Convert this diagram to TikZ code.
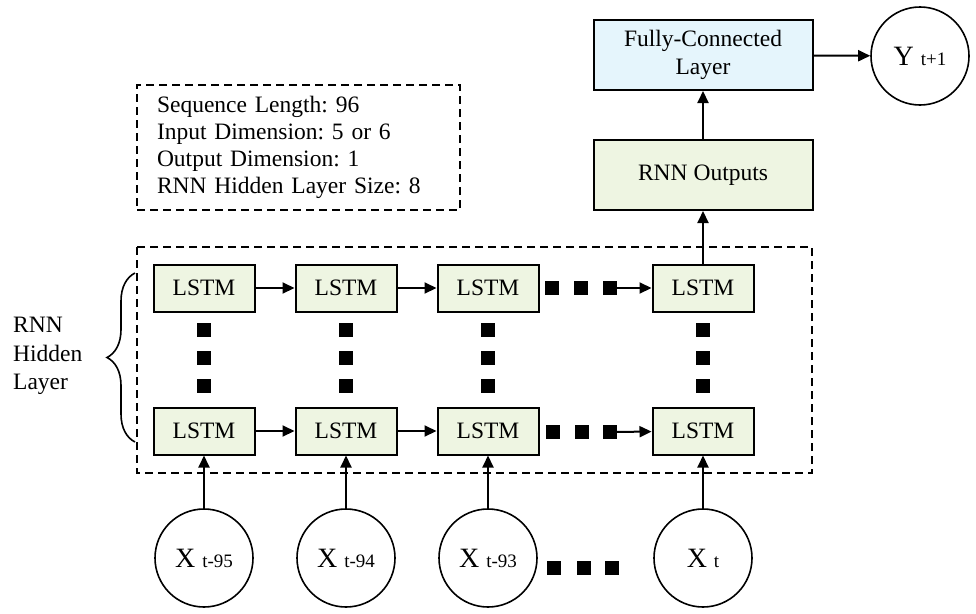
\documentclass[tikz,border=0pt]{standalone}
\usepackage{fontspec}
\setmainfont{Liberation Serif}
\usetikzlibrary{arrows.meta, decorations.pathreplacing}
\definecolor{cellfill}{RGB}{238,245,226}
\definecolor{fcfill}{RGB}{229,245,252}
\tikzstyle{cell} = [rectangle,
  minimum width=101pt, minimum height=47pt,
  text centered, inner sep=0pt,
  draw=black, line width=2pt, fill=cellfill,
  font=\fontsize{23.5}{28}\selectfont]
\tikzstyle{block} = [rectangle,
  minimum width=219pt, minimum height=70pt,
  text centered, align=center, inner sep=0pt,
  draw=black, line width=2pt,
  font=\fontsize{23.5}{28}\selectfont]
\tikzstyle{series} = [circle, minimum size=98pt,
  draw=black, line width=1.6pt, inner sep=0pt]
\tikzstyle{dot} = [rectangle, fill=black,
  minimum size=14pt, inner sep=0pt]
\tikzstyle{group} = [draw=black, line width=2pt,
  dash pattern=on 8pt off 5pt]
\tikzstyle{arrow} = [line width=2pt,
  -{Triangle[length=12pt,width=11pt]}]
\newcommand{\seqlabel}[2]{{\fontsize{28}{28}\selectfont #1}\hspace{7pt}{\fontsize{19}{19}\selectfont #2}}

\begin{document}
\frenchspacing
\begin{tikzpicture}[x=1pt, y=-1pt]
\useasboundingbox (0,0) rectangle (976,613);

%% ---- SETTINGS BOX ----
\node (info) [group, minimum width=323pt, minimum height=125pt,
  text width=283pt, inner xsep=20pt, align=left,
  font=\fontsize{23.5}{27}\selectfont] at (298.5,147.5)
  {Sequence Length: 96\\Input Dimension: 5 or 6\\Output Dimension: 1\\RNN Hidden Layer Size: 8};

%% ---- OUTPUT SIDE ----
\node (fc)  [block, fill=fcfill]   at (703, 55)  {Fully-Connected\\Layer};
\node (out) [block, fill=cellfill] at (703, 175) {RNN Outputs};
\node (y)   [series] at (920, 56) {\seqlabel{Y}{t+1}};

%% ---- HIDDEN LAYER ----
\draw[group] (137,247) rectangle (812,473);

\node (top1) [cell] at (204, 288) {LSTM};
\node (top2) [cell] at (346, 288) {LSTM};
\node (top3) [cell] at (488, 288) {LSTM};
\node (topn) [cell] at (703, 288) {LSTM};

\node (low1) [cell] at (204, 431) {LSTM};
\node (low2) [cell] at (346, 431) {LSTM};
\node (low3) [cell] at (488, 431) {LSTM};
\node (lown) [cell] at (703, 431) {LSTM};

%% dots between the layers
\node (v1a) [dot] at (204, 330) {}; \node (v1b) [dot] at (204, 358) {}; \node (v1c) [dot] at (204, 386) {};
\node (v2a) [dot] at (346, 330) {}; \node (v2b) [dot] at (346, 358) {}; \node (v2c) [dot] at (346, 386) {};
\node (v3a) [dot] at (488, 330) {}; \node (v3b) [dot] at (488, 358) {}; \node (v3c) [dot] at (488, 386) {};
\node (vna) [dot] at (703, 330) {}; \node (vnb) [dot] at (703, 358) {}; \node (vnc) [dot] at (703, 386) {};

%% dots along the time steps
\node (ta) [dot] at (552, 288) {}; \node (tb) [dot] at (581, 288) {}; \node (tc) [dot] at (610, 288) {};
\node (la) [dot] at (553, 432) {}; \node (lb) [dot] at (582, 432) {}; \node (lc) [dot] at (610, 432) {};

%% ---- INPUTS ----
\node (x1) [series] at (204, 558) {\seqlabel{X}{t-95}};
\node (x2) [series] at (346, 558) {\seqlabel{X}{t-94}};
\node (x3) [series] at (488, 558) {\seqlabel{X}{t-93}};
\node (xn) [series] at (703, 558) {\seqlabel{X}{t}};

\node (ia) [dot] at (554, 568) {}; \node (ib) [dot] at (584, 568) {}; \node (ic) [dot] at (612, 568) {};

%% ---- LABEL ----
\node (hlabel) [anchor=west, inner sep=0pt, align=left,
  font=\fontsize{23.5}{28.5}\selectfont] at (13, 356) {RNN\\Hidden\\Layer};
\draw[decorate, decoration={brace, amplitude=28pt}, line width=1.6pt]
  (135, 442) -- (135, 273);

%% ---- CONNECTORS ----
\draw[arrow] (top1) -- (top2);
\draw[arrow] (top2) -- (top3);
\draw[arrow] (tc)   -- (topn);
\draw[arrow] (low1) -- (low2);
\draw[arrow] (low2) -- (low3);
\draw[arrow] (lc)   -- (lown);

\draw[arrow] (x1) -- (low1);
\draw[arrow] (x2) -- (low2);
\draw[arrow] (x3) -- (low3);
\draw[arrow] (xn) -- (lown);

\draw[arrow] (topn) -- (out);
\draw[arrow] (out)  -- (fc);
\draw[arrow] (fc)   -- (y);

\end{tikzpicture}
\end{document}
